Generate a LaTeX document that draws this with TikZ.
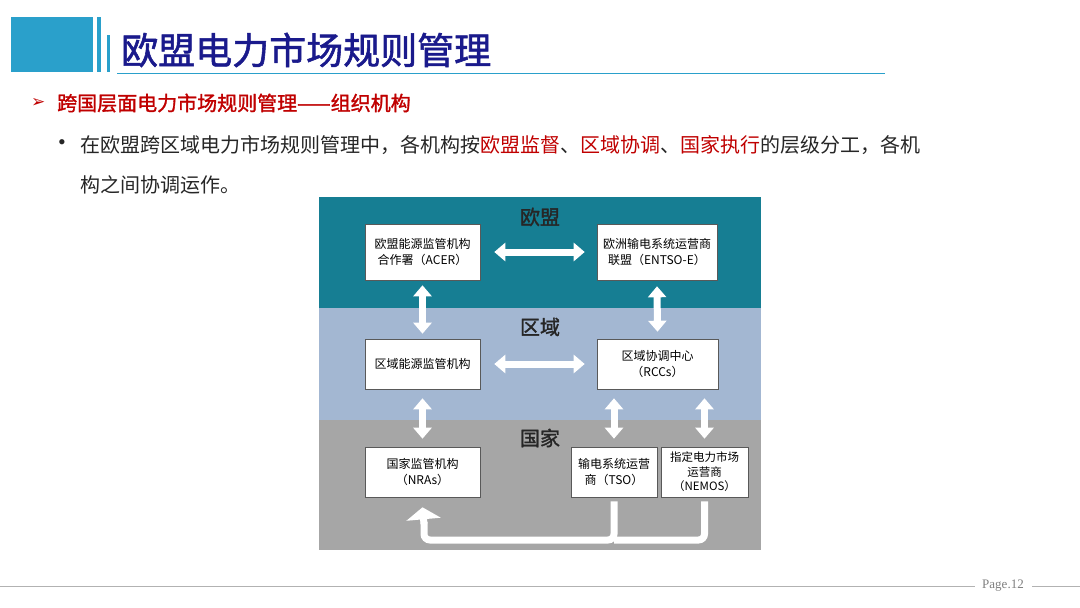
\documentclass[tikz,border=0pt]{standalone}
\usepackage{fontspec}
\setmainfont{Liberation Serif}
\newfontfamily\cjk{Noto Sans CJK SC}
\newfontfamily\cjkb{Noto Sans CJK SC}[FakeBold=1.5]
\newfontfamily\dv{DejaVu Sans}
\usetikzlibrary{arrows.meta}
\definecolor{titleblue}{HTML}{1A1A8C}
\definecolor{barblue}{HTML}{2AA0CB}
\definecolor{redt}{HTML}{C00000}
\definecolor{teal}{HTML}{167E93}
\definecolor{lblue}{HTML}{A3B7D2}
\definecolor{gband}{HTML}{A6A6A6}
\definecolor{dtext}{HTML}{262626}
\tikzset{
 box/.style={draw=gray!70!black,line width=0.6pt,fill=white,inner sep=0pt,align=center,font=\fontsize{12}{16}\cjk,text=black},
 fat/.style={white,line width=7pt,{Triangle[width=18pt,length=11pt]}-{Triangle[width=18pt,length=11pt]}},
 fatone/.style={white,line width=7pt,-{Triangle[width=34pt,length=12pt]}},
 band/.style={font=\fontsize{20}{20}\cjkb,text=dtext}
}
\begin{document}
\begin{tikzpicture}[x=1pt,y=-1pt]
\useasboundingbox (0,0) rectangle (1080,608);
\fill[white] (0,0) rectangle (1080,608);
% header
\fill[barblue] (11,17) rectangle (93,72);
\fill[barblue] (97,17) rectangle (101,72);
\fill[barblue] (107,35) rectangle (110,72);
\draw[barblue,line width=1pt] (117,73) -- (885,73);
\node[anchor=west,inner sep=0pt,text=titleblue,font=\fontsize{37}{37}\cjkb] (title) at (121,50) {欧盟电力市场规则管理};
\node[anchor=west,inner sep=0pt,text=redt,font=\fontsize{17}{17}\dv] (arr) at (31,103) {➢};
\node[anchor=west,inner sep=0pt,text=redt,font=\fontsize{20}{20}\cjkb] (sub) at (57,103) {跨国层面电力市场规则管理——组织机构};
\node[inner sep=0pt,text=dtext,font=\fontsize{22}{22}\selectfont] (dot) at (62,145) {•};
\node[anchor=west,inner sep=0pt,text=dtext,font=\fontsize{20}{20}\cjk] (l1) at (80,145) {在欧盟跨区域电力市场规则管理中，各机构按\textcolor{redt}{欧盟监督}、\textcolor{redt}{区域协调}、\textcolor{redt}{国家执行}的层级分工，各机};
\node[anchor=west,inner sep=0pt,text=dtext,font=\fontsize{20}{20}\cjk] (l2) at (80,185) {构之间协调运作。};
% footer
\draw[gray!60,line width=0.8pt] (0,586) -- (975,586);
\draw[gray!60,line width=0.8pt] (1032,586) -- (1080,586);
\node[inner sep=0pt,text=gray,font=\fontsize{13}{13}\selectfont] (pg) at (1003,586) {Page.12};
% diagram bands
\fill[teal] (319,197) rectangle (761,308);
\fill[lblue] (319,308) rectangle (761,420);
\fill[gband] (319,420) rectangle (761,550);
\node[band] (eu) at (540,217) {欧盟};
\node[band] (reg) at (540,327) {区域};
\node[band] (nat) at (540,438) {国家};
% boxes
\node[box,minimum width=115pt,minimum height=56pt] (acer) at (422.5,252) {欧盟能源监管机构\\合作署（ACER）};
\node[box,minimum width=120pt,minimum height=56pt] (entso) at (657,252) {欧洲输电系统运营商\\联盟（ENTSO-E）};
\node[box,minimum width=115pt,minimum height=50pt] (rer) at (422.5,364) {区域能源监管机构};
\node[box,minimum width=121pt,minimum height=50pt] (rcc) at (657.5,364) {区域协调中心\\（RCCs）};
\node[box,minimum width=115pt,minimum height=50pt] (nra) at (422.5,472) {国家监管机构\\（NRAs）};
\node[box,minimum width=86pt,minimum height=50pt] (tso) at (614,472) {输电系统运营\\商（TSO）};
\node[box,minimum width=87pt,minimum height=50pt,font=\fontsize{11.5}{14.5}\cjk] (nemo) at (704.5,472) {指定电力市场\\运营商\\（NEMOS）};
% arrows
\draw[fat] ([xshift=14pt]acer.east) -- ([xshift=-12pt]entso.west);
\draw[fat] ([xshift=14pt]rer.east) -- ([xshift=-12pt]rcc.west);
\draw[fat] ([yshift=-5pt]acer.south) -- ([yshift=5pt]rer.north);
\draw[fat] ([yshift=-6pt]entso.south) -- ([yshift=7pt]rcc.north);
\draw[fat] ([yshift=-9pt]rer.south) -- ([yshift=8pt]nra.north);
\draw[fat] ([yshift=-9pt]rcc.south-|tso) -- ([yshift=8pt]tso.north);
\draw[fat] ([yshift=-9pt]rcc.south-|nemo) -- ([yshift=8pt]nemo.north);
\coordinate (c1) at (614,540);
\coordinate (c3) at (424,540);
\draw[white,line width=7pt,rounded corners=6pt] ([yshift=-4pt]nemo.south) |- (c1);
\draw[white,line width=7pt,rounded corners=6pt] ([yshift=-4pt]tso.south) |- (c3) -- (424,522);
\draw[fatone] (424,524) -- ([yshift=-10pt]nra.south);
\end{tikzpicture}
\end{document}
